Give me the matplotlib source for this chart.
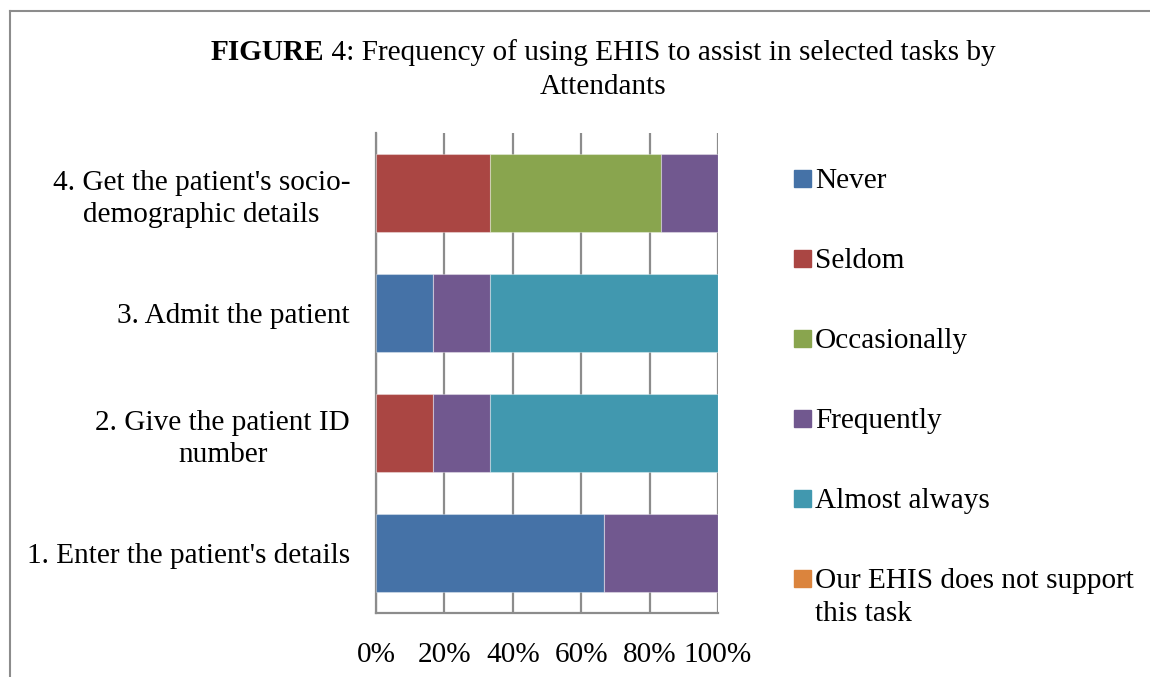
import matplotlib
matplotlib.use("Agg")
import matplotlib.pyplot as plt
from matplotlib.patches import Rectangle
from matplotlib.lines import Line2D
from matplotlib.ticker import PercentFormatter
import numpy as np

# categories, bottom to top
tasks = [
    "1. Enter the patient's details",
    "2. Give the patient ID\nnumber",
    "3. Admit the patient",
    "4. Get the patient's socio-\ndemographic details",
]

# share of answers per category (%), one list per response
never = [66.7, 0.0, 16.7, 0.0]
seldom = [0.0, 16.7, 0.0, 33.3]
occasionally = [0.0, 0.0, 0.0, 50.0]
frequently = [33.3, 16.7, 16.7, 16.7]
almost_always = [0.0, 66.7, 66.7, 0.0]
not_supported = [0.0, 0.0, 0.0, 0.0]

series_names = ["Never", "Seldom", "Occasionally", "Frequently", "Almost always",
                "Our EHIS does not support\nthis task"]
series_values = [never, seldom, occasionally, frequently, almost_always, not_supported]
series_colors = ["#4572A7", "#AA4643", "#89A54E", "#71588F", "#4198AF", "#DB843D"]

x_ticks = [0, 20, 40, 60, 80, 100]

plt.rcParams["font.family"] = ["Liberation Serif", "DejaVu Serif"]
fs = 21.1

W, H = 1150, 677
fig = plt.figure(figsize=(W / 100, H / 100), dpi=100)
ax = fig.add_axes([376 / W, 1 - 613 / H, (718 - 376) / W, (613 - 133) / H])

# stacked horizontal bars
y = np.arange(len(tasks))
left = np.zeros(len(tasks))
for name, vals, col in zip(series_names, series_values, series_colors):
    vals = np.array(vals)
    ax.barh(y, vals, left=left, height=0.645, color=col,
            edgecolor=(1, 1, 1, 0.35), linewidth=0.8, zorder=3)
    left += vals

ax.set_xlim(0, 100)
ax.set_ylim(-0.5, len(tasks) - 0.5)
ax.set_xticks(x_ticks)
ax.xaxis.set_major_formatter(PercentFormatter(decimals=0))
ax.set_yticks(y)
ax.set_yticklabels(tasks, fontsize=fs, ha="right", multialignment="center",
                   linespacing=1.3)
ax.tick_params(axis="x", length=0, pad=21, labelsize=fs)
ax.tick_params(axis="y", length=0, pad=18.7)
ax.grid(axis="x", color="#8C8C8C", linewidth=1.6, zorder=0)
ax.set_axisbelow(True)
for side in ["top", "right"]:
    ax.spines[side].set_visible(False)
for side in ["left", "bottom"]:
    ax.spines[side].set_color("#8C8C8C")
    ax.spines[side].set_linewidth(1.6)

# legend entries drawn by hand, one row every 80 px, 33 px between wrapped lines
for i, (name, col) in enumerate(zip(series_names, series_colors)):
    yc = 178 + 80 * i
    fig.patches.append(Rectangle((794 / W, 1 - (yc + 8.5) / H), 17 / W, 17 / H,
                                 transform=fig.transFigure, color=col))
    for k, line in enumerate(name.split("\n")):
        fig.text(815 / W, 1 - (yc + 10 + 33 * k) / H, line, fontsize=fs,
                 va="baseline", ha="left")

# title: bold "FIGURE" followed by regular text, centred as one line
fig.canvas.draw()
r = fig.canvas.get_renderer()
t1 = fig.text(0, 1 - 52.5 / H, "FIGURE", fontsize=fs, fontweight="bold", va="center")
t2 = fig.text(0, 1 - 52.5 / H, " 4: Frequency of using EHIS to assist in selected tasks by",
              fontsize=fs, va="center")
w1 = t1.get_window_extent(r).width
w2 = t2.get_window_extent(r).width
x0 = 603 - (w1 + w2) / 2
t1.set_x(x0 / W)
t2.set_x((x0 + w1) / W)
fig.text(603 / W, 1 - 86.5 / H, "Attendants", fontsize=fs, ha="center", va="center")

# chart frame
fig.add_artist(Line2D([9.5 / W, 1], [1 - 11 / H, 1 - 11 / H], color="#8C8C8C",
                      linewidth=1.5, transform=fig.transFigure))
fig.add_artist(Line2D([9.5 / W, 9.5 / W], [0, 1 - 11 / H], color="#8C8C8C",
                      linewidth=1.5, transform=fig.transFigure))

fig.savefig("out.png", dpi=100)
